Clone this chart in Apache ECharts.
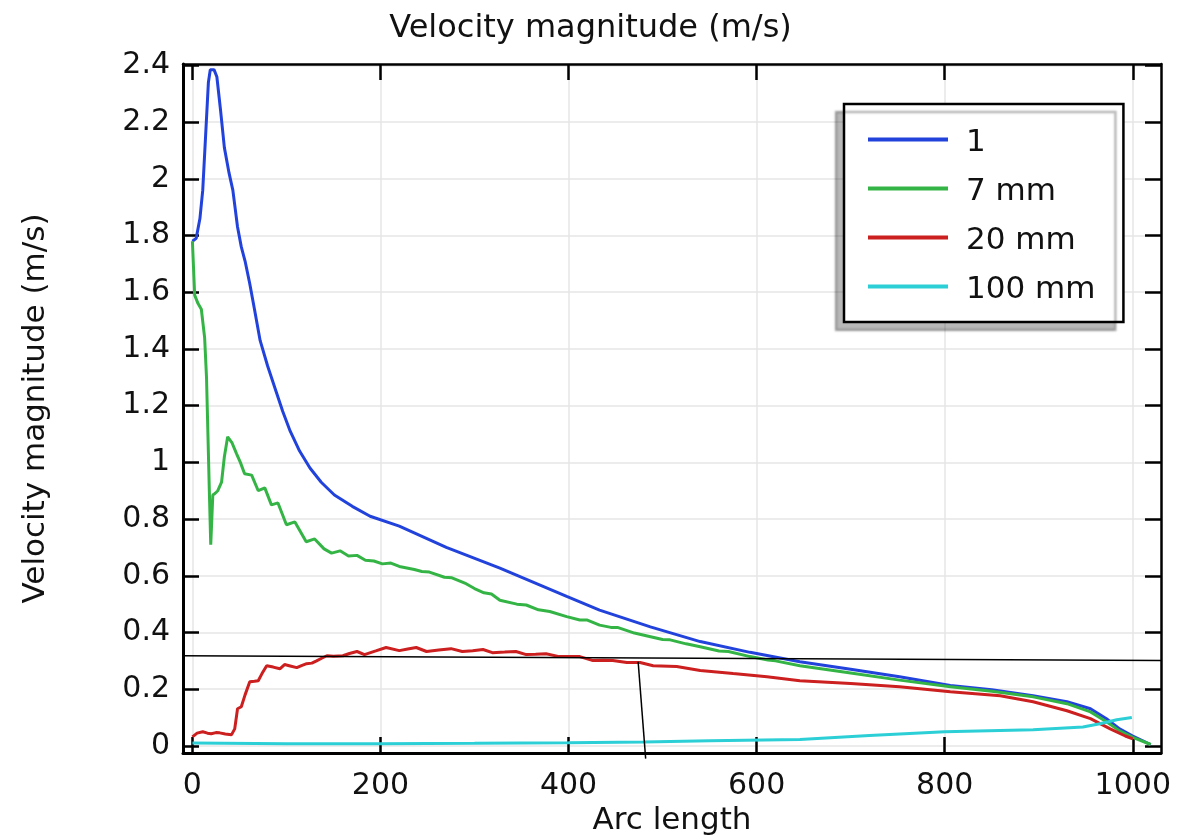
<!DOCTYPE html>
<html>
<head>
<meta charset="utf-8">
<script src="https://cdn.jsdelivr.net/npm/echarts@6/dist/echarts.min.js"></script>
<style>
html,body{margin:0;padding:0;background:#fff;}
#chart{width:1181px;height:835px;}
</style>
</head>
<body>
<div id="chart"></div>
<script>
// ---- data (arc length, velocity magnitude m/s) ----
const seriesNames = ['1', '7 mm', '20 mm', '100 mm'];
const xTicks = [0, 200, 400, 600, 800, 1000];
const yTicks = [0, 0.2, 0.4, 0.6, 0.8, 1, 1.2, 1.4, 1.6, 1.8, 2, 2.2, 2.4];

const blue1 = [[0,1.78],[4,1.79],[8,1.86],[11,1.96],[14,2.15],[17,2.34],[19,2.385],[23,2.385],[26,2.36],[30,2.24],[34,2.11],[39,2.02],[43,1.96],[48,1.83],[52,1.76],[56,1.71],[61,1.63],[66,1.54],[72,1.43],[80,1.34],[89,1.25],[96,1.18],[104,1.11],[114,1.04],[125,0.98],[137,0.93],[151,0.885],[170,0.845],[189,0.81],[220,0.775],[270,0.70],[327,0.627],[398,0.527],[433,0.479],[487,0.42],[540,0.368],[593,0.33],[646,0.297],[700,0.27],[752,0.244],[806,0.213],[850,0.198],[894,0.177],[930,0.156],[955,0.131],[972,0.096],[986,0.06],[1000,0.035],[1019,0.005]];

const green7 = [[0,1.78],[2.4,1.59],[6,1.56],[9.5,1.54],[13,1.44],[15,1.30],[16.5,1.10],[18,0.9],[19.5,0.71],[21.7,0.885],[24,0.89],[27,0.90],[31,0.93],[34,1.02],[37.5,1.09],[42,1.07],[47,1.03],[51,1.0],[55.5,0.96],[63,0.955],[70,0.90],[77,0.91],[84,0.85],[91,0.857],[100,0.78],[109,0.79],[121,0.72],[130,0.73],[140,0.695],[148,0.68],[157,0.688],[166,0.67],[175,0.672],[184,0.655],[193,0.652],[202,0.642],[211,0.645],[220,0.633],[236,0.622],[244,0.615],[252,0.613],[268,0.595],[276,0.593],[291,0.572],[300,0.555],[310,0.540],[318,0.536],[327,0.514],[345,0.500],[355,0.497],[368,0.48],[380,0.474],[398,0.456],[412,0.444],[420,0.444],[433,0.426],[445,0.418],[452,0.418],[470,0.398],[486,0.386],[500,0.375],[508,0.374],[525,0.36],[540,0.35],[560,0.335],[570,0.333],[593,0.315],[612,0.303],[620,0.300],[646,0.283],[700,0.257],[752,0.232],[806,0.209],[850,0.193],[894,0.173],[930,0.149],[955,0.12],[972,0.085],[986,0.053],[1000,0.03],[1019,0.005]];

const red20 = [[0,0.032],[5,0.045],[11,0.05],[16,0.045],[20,0.043],[25,0.047],[29,0.046],[35,0.042],[41.5,0.039],[45,0.06],[48,0.131],[52,0.138],[56,0.18],[61,0.226],[66,0.228],[70,0.23],[74,0.255],[79,0.283],[86,0.278],[93,0.272],[98,0.287],[104,0.282],[111,0.276],[116,0.283],[121.5,0.29],[127,0.292],[132,0.30],[138,0.31],[143,0.318],[150,0.316],[160,0.318],[167,0.326],[175,0.333],[183,0.322],[195,0.335],[206,0.347],[220,0.336],[229,0.342],[238,0.347],[249,0.333],[262,0.338],[275,0.343],[287,0.333],[298,0.336],[309,0.34],[319,0.329],[332,0.331],[344,0.333],[355,0.322],[365,0.323],[376,0.325],[390,0.315],[400,0.315],[412,0.315],[426,0.301],[437,0.302],[447,0.301],[462,0.294],[476,0.294],[490,0.283],[515,0.28],[540,0.266],[575,0.255],[611,0.244],[646,0.23],[700,0.22],[752,0.209],[806,0.191],[859,0.177],[894,0.156],[930,0.124],[955,0.096],[976,0.06],[992,0.035],[1000,0.025]];

const cyan100 = [[0,0.01],[100,0.008],[200,0.008],[300,0.009],[400,0.011],[480,0.014],[550,0.018],[646,0.023],[720,0.037],[800,0.05],[894,0.057],[947,0.067],[965,0.078],[983,0.092],[999,0.1]];

// stray annotation strokes present in the source image
const annotH = [[-10,0.318],[1030,0.301]];
const annotV = [[474,0.297],[482,-0.045]];

const colors = ['#2242dc', '#35b446', '#cc1f1f', '#2ccfd6'];
const FONT = 'DejaVu Sans';

const chart = echarts.init(document.getElementById('chart'), null, {renderer: 'canvas'});

const xBase = {
  type: 'value', min: -10, max: 1030,
  axisLine: {show: true, onZero: false, lineStyle: {color: '#000', width: 3}},
  axisTick: {show: true, inside: true, length: 16, customValues: xTicks, lineStyle: {color: '#000', width: 2.5}},
};
const yBase = {
  type: 'value', min: -0.025, max: 2.405,
  axisLine: {show: true, onZero: false, lineStyle: {color: '#000', width: 3}},
  axisTick: {show: true, inside: true, length: 16, customValues: yTicks, lineStyle: {color: '#000', width: 2.5}},
};

function lineSeries(name, data, color) {
  return {
    name, type: 'line', data, showSymbol: false, symbol: 'none',
    lineStyle: {color, width: 3}, itemStyle: {color}, z: 3
  };
}

chart.setOption({
  animation: false,
  backgroundColor: '#fff',
  textStyle: {fontFamily: FONT},
  title: {
    text: 'Velocity magnitude (m/s)', left: 'center', top: 8,
    textStyle: {fontFamily: FONT, fontSize: 32, fontWeight: 'normal', color: '#111'}
  },
  grid: {left: 183, right: 20, top: 64, bottom: 82, containLabel: false, outerBoundsMode: 'none'},
  legend: {
    data: seriesNames, orient: 'vertical', left: 844, top: 104,
    padding: [17, 28, 17, 24], itemWidth: 80, itemHeight: 4, icon: 'rect', itemGap: 12,
    backgroundColor: '#fff', borderColor: '#000', borderWidth: 2.5,
    shadowColor: 'rgba(0,0,0,0.28)', shadowOffsetX: -8, shadowOffsetY: 8, shadowBlur: 2,
    formatter: n => '{t|' + n + '}',
    textStyle: {fontFamily: FONT, fontSize: 31, color: '#111',
      rich: {t: {fontFamily: FONT, fontSize: 31, lineHeight: 36, color: '#111', padding: [6, 0, 0, 13]}}},
    selectedMode: false
  },
  xAxis: [
    Object.assign({}, xBase, {
      position: 'bottom',
      name: 'Arc length', nameLocation: 'middle', nameGap: 46,
      nameTextStyle: {fontFamily: FONT, fontSize: 31, color: '#111'},
      axisLabel: {show: true, customValues: xTicks, margin: 18, fontFamily: FONT, fontSize: 30, color: '#111',
        formatter: v => String(Math.round(v))},
      splitLine: {show: true, lineStyle: {color: '#e6e6e6', width: 1.5}}
    }),
    Object.assign({}, xBase, {
      position: 'top', axisLabel: {show: false}, splitLine: {show: false},
      axisLine: {show: true, onZero: false, lineStyle: {color: '#000', width: 2.5}}
    })
  ],
  yAxis: [
    Object.assign({}, yBase, {
      position: 'left',
      name: 'Velocity magnitude (m/s)', nameLocation: 'middle', nameGap: 132,
      nameTextStyle: {fontFamily: FONT, fontSize: 31, color: '#111'},
      axisLabel: {show: true, customValues: yTicks, margin: 13, fontFamily: FONT, fontSize: 30, color: '#111',
        formatter: v => String(+(+v).toFixed(1))},
      splitLine: {show: true, lineStyle: {color: '#e6e6e6', width: 1.5}}
    }),
    Object.assign({}, yBase, {
      position: 'right', axisLabel: {show: false}, splitLine: {show: false},
      axisLine: {show: true, onZero: false, lineStyle: {color: '#000', width: 2.5}}
    })
  ],
  series: [
    lineSeries(seriesNames[0], blue1, colors[0]),
    lineSeries(seriesNames[1], green7, colors[1]),
    lineSeries(seriesNames[2], red20, colors[2]),
    lineSeries(seriesNames[3], cyan100, colors[3]),
    {name: 'annotH', type: 'line', data: annotH, symbol: 'none', clip: false,
     lineStyle: {color: '#000', width: 1.5}, z: 4, silent: true},
    {name: 'annotV', type: 'line', data: annotV, symbol: 'none', clip: false,
     lineStyle: {color: '#000', width: 1.5}, z: 4, silent: true}
  ]
});
</script>
</body>
</html>
